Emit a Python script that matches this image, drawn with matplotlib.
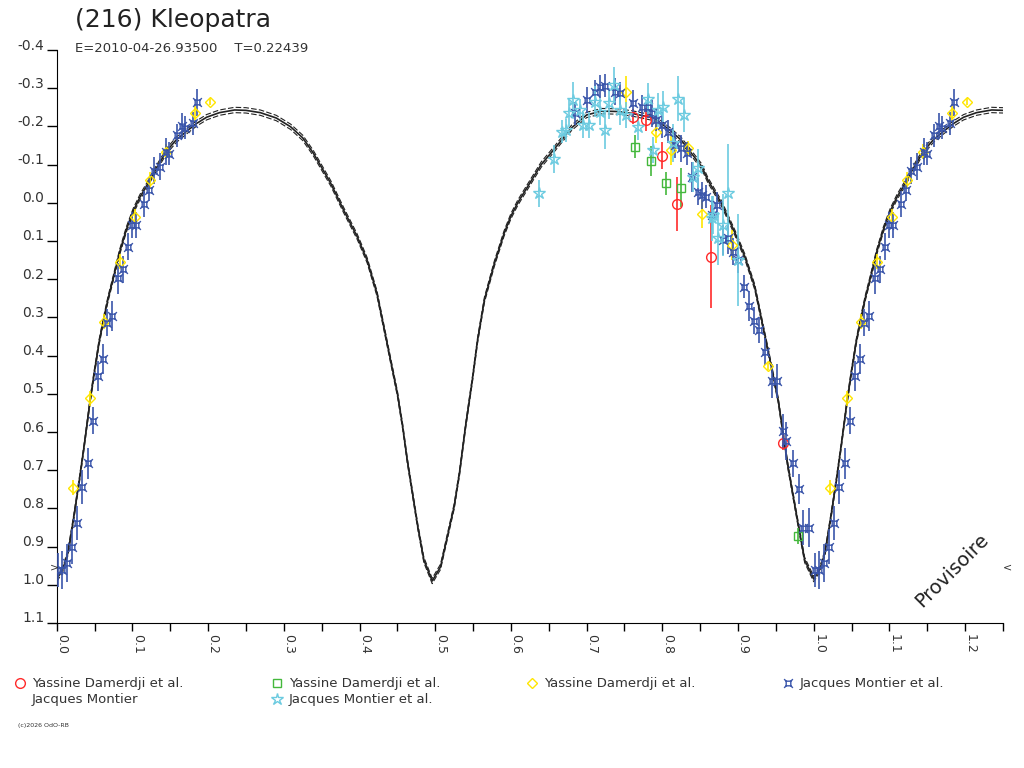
import numpy as np
import matplotlib
matplotlib.use("Agg")
import matplotlib.pyplot as plt
import matplotlib.transforms as mtransforms
from matplotlib.lines import Line2D
from matplotlib.path import Path
from matplotlib.ticker import MultipleLocator

plt.rcParams['axes.unicode_minus'] = False
plt.rcParams['font.family'] = ['DejaVu Sans']

# model lightcurve (phase 0..1)
model_phase = [0.000, 0.008, 0.015, 0.022, 0.030, 0.036, 0.044, 0.050, 0.056, 0.062,
               0.068, 0.075, 0.083, 0.092, 0.101, 0.110, 0.119, 0.130, 0.145, 0.158,
               0.172, 0.185, 0.198, 0.215, 0.235, 0.250, 0.269, 0.290, 0.309, 0.325,
               0.339, 0.362, 0.379, 0.397, 0.410, 0.423, 0.432, 0.441, 0.450, 0.457,
               0.463, 0.470, 0.477, 0.485, 0.496, 0.507, 0.516, 0.525, 0.532, 0.540,
               0.549, 0.556, 0.565, 0.578, 0.591, 0.600, 0.609, 0.626, 0.640, 0.657,
               0.680, 0.700, 0.720, 0.741, 0.760, 0.789, 0.810, 0.825, 0.852, 0.860,
               0.878, 0.896, 0.909, 0.922, 0.940, 0.953, 0.966, 0.980, 0.988, 1.000]
model_mag = [0.985, 0.960, 0.915, 0.830, 0.725, 0.640, 0.520, 0.440, 0.365, 0.305,
             0.250, 0.195, 0.130, 0.070, 0.022, -0.015, -0.045, -0.085, -0.135, -0.165,
             -0.188, -0.208, -0.224, -0.236, -0.243, -0.242, -0.236, -0.222, -0.199, -0.170,
             -0.130, -0.051, 0.019, 0.089, 0.150, 0.237, 0.324, 0.412, 0.499, 0.586,
             0.673, 0.761, 0.848, 0.935, 0.990, 0.953, 0.874, 0.795, 0.708, 0.586,
             0.464, 0.359, 0.254, 0.160, 0.080, 0.035, 0.000, -0.055, -0.100, -0.140,
             -0.196, -0.230, -0.240, -0.239, -0.234, -0.222, -0.190, -0.164, -0.095, -0.060,
             0.001, 0.079, 0.141, 0.220, 0.390, 0.516, 0.691, 0.848, 0.935, 0.985]
model_spread = 0.007

# Yassine Damerdji et al. (red circles)
red_phase = [0.761, 0.779, 0.799, 0.819, 0.864, 0.959]
red_mag = [-0.225, -0.217, -0.123, 0.003, 0.141, 0.628]
red_err = [0.02, 0.03, 0.035, 0.07, 0.135, 0.02]

# Yassine Damerdji et al. (green squares)
green_phase = [0.764, 0.785, 0.805, 0.825, 0.979]
green_mag = [-0.147, -0.109, -0.051, -0.040, 0.872]
green_err = [0.03, 0.04, 0.03, 0.05, 0.02]

# Yassine Damerdji et al. (yellow diamonds)
yellow_phase = [0.022, 0.044, 0.063, 0.083, 0.104, 0.123, 0.144, 0.183, 0.202,
                0.752, 0.792, 0.812, 0.834, 0.853, 0.892, 0.939]
yellow_mag = [0.746, 0.512, 0.311, 0.154, 0.036, -0.060, -0.134, -0.234, -0.265,
              -0.291, -0.186, -0.138, -0.143, 0.029, 0.111, 0.427]
yellow_err = [0.02, 0.02, 0.02, 0.02, 0.02, 0.02, 0.02, 0.02, 0.01,
              0.04, 0.03, 0.04, 0.02, 0.037, 0.04, 0.01]

# Jacques Montier et al. (blue)
blue_phase = [0.002, 0.007, 0.014, 0.020, 0.027, 0.034, 0.041, 0.048, 0.055, 0.061,
              0.066, 0.073, 0.081, 0.087, 0.094, 0.100, 0.105, 0.115, 0.122, 0.128,
              0.136, 0.145, 0.149, 0.159, 0.165, 0.170, 0.180, 0.185,
              0.684, 0.700, 0.711, 0.718, 0.724, 0.737, 0.744, 0.761, 0.773, 0.781,
              0.786, 0.792, 0.799, 0.808, 0.817, 0.825, 0.832, 0.839, 0.847, 0.852,
              0.858, 0.866, 0.872, 0.880, 0.887, 0.894, 0.900, 0.908, 0.914, 0.921,
              0.928, 0.935, 0.945, 0.951, 0.959, 0.964, 0.973, 0.980, 0.986, 0.994]
blue_mag = [0.961, 0.961, 0.942, 0.900, 0.839, 0.744, 0.682, 0.570, 0.453, 0.409,
            0.314, 0.296, 0.198, 0.174, 0.115, 0.058, 0.058, 0.003, -0.034, -0.084,
            -0.095, -0.134, -0.128, -0.177, -0.201, -0.196, -0.208, -0.263,
            -0.234, -0.269, -0.291, -0.304, -0.306, -0.291, -0.287, -0.260, -0.252, -0.252,
            -0.234, -0.217, -0.204, -0.186, -0.151, -0.143, -0.130, -0.068, -0.029, -0.020,
            -0.016, 0.032, 0.006, 0.097, 0.093, 0.128, 0.150, 0.220, 0.270, 0.309,
            0.333, 0.390, 0.466, 0.466, 0.597, 0.624, 0.682, 0.749, 0.850, 0.850]
blue_err = [0.045, 0.05, 0.05, 0.045, 0.045, 0.045, 0.04, 0.035, 0.04, 0.04,
            0.035, 0.04, 0.04, 0.035, 0.035, 0.035, 0.035, 0.035, 0.03, 0.035,
            0.035, 0.035, 0.03, 0.03, 0.035, 0.03, 0.03, 0.035,
            0.03, 0.035, 0.03, 0.03, 0.03, 0.035, 0.03, 0.035, 0.03, 0.03,
            0.035, 0.03, 0.035, 0.03, 0.035, 0.035, 0.03, 0.04, 0.035, 0.035,
            0.03, 0.04, 0.035, 0.04, 0.04, 0.035, 0.035, 0.03, 0.04, 0.035,
            0.035, 0.035, 0.045, 0.045, 0.045, 0.05, 0.035, 0.04, 0.045, 0.05]

# Jacques Montier et al. (cyan stars)
cyan_phase = [0.637, 0.657, 0.667, 0.673, 0.677, 0.682, 0.691, 0.695, 0.703, 0.711,
              0.718, 0.724, 0.730, 0.736, 0.744, 0.752, 0.768, 0.781, 0.788, 0.794,
              0.801, 0.814, 0.821, 0.828, 0.841, 0.847, 0.866, 0.867, 0.874, 0.880,
              0.887, 0.900]
cyan_mag = [-0.025, -0.115, -0.186, -0.190, -0.234, -0.269, -0.243, -0.204, -0.204, -0.265,
            -0.239, -0.190, -0.260, -0.308, -0.243, -0.230, -0.199, -0.273, -0.138, -0.243,
            -0.252, -0.156, -0.273, -0.230, -0.068, -0.090, 0.041, 0.032, 0.093, 0.058,
            -0.025, 0.150]
cyan_err = [0.035, 0.037, 0.03, 0.03, 0.035, 0.048, 0.03, 0.035, 0.035, 0.04,
            0.035, 0.05, 0.04, 0.048, 0.04, 0.035, 0.035, 0.04, 0.035, 0.045,
            0.04, 0.05, 0.06, 0.045, 0.04, 0.05, 0.06, 0.05, 0.07, 0.08,
            0.13, 0.12]

XMAX = 1.25

# square with corner ticks for the blue series
blue_marker = Path(
    [(-0.45, -0.45), (0.45, -0.45), (0.45, 0.45), (-0.45, 0.45), (-0.45, -0.45),
     (-0.45, -0.45), (-0.85, -0.85), (0.45, -0.45), (0.85, -0.85),
     (0.45, 0.45), (0.85, 0.85), (-0.45, 0.45), (-0.85, 0.85)],
    [Path.MOVETO, Path.LINETO, Path.LINETO, Path.LINETO, Path.CLOSEPOLY,
     Path.MOVETO, Path.LINETO, Path.MOVETO, Path.LINETO,
     Path.MOVETO, Path.LINETO, Path.MOVETO, Path.LINETO])

series = [
    (red_phase, red_mag, red_err, '#ff2a2a', 'o', 7),
    (green_phase, green_mag, green_err, '#44b83c', 's', 5.5),
    (yellow_phase, yellow_mag, yellow_err, '#ffe600', 'D', 5.5),
    (blue_phase, blue_mag, blue_err, '#3a55aa', blue_marker, 6.3),
    (cyan_phase, cyan_mag, cyan_err, '#6ccbe0', '*', 9),
]


def unfold(phase, vals):
    # plot each phase once, and again one cycle later while it is still on the axis
    p = np.array(phase)
    extra = p + 1.0 <= XMAX
    return np.concatenate([p, p[extra] + 1.0]), [np.concatenate([np.array(v), np.array(v)[extra]]) for v in vals]


fig = plt.figure(figsize=(10.24, 7.68), dpi=100)
ax = fig.add_axes([56.7 / 1024, 1 - 623 / 768, (1003 - 56.7) / 1024, (623 - 50) / 768])

# model curve with its envelope
mp, (mm,) = unfold(model_phase[:-1], [model_mag[:-1]])
order = np.argsort(mp)
mp, mm = mp[order], mm[order]
ax.plot(mp, mm, color='#222222', lw=1.2, zorder=2)
ax.plot(mp, mm - model_spread, color='#222222', lw=0.8, ls=(0, (5, 2)), zorder=2)
ax.plot(mp, mm + model_spread, color='#222222', lw=0.8, ls=(0, (5, 2)), zorder=2)

for phase, mag, err, col, mk, ms in series:
    px, (py, pe) = unfold(phase, [mag, err])
    ax.errorbar(px, py, yerr=pe, fmt='none', ecolor=col, elinewidth=1.2, capsize=0, zorder=3)
    ax.plot(px, py, ls='none', marker=mk, ms=ms, mec=col, mfc='none', mew=1.0, zorder=4)

ax.set_xlim(0, XMAX)
ax.set_ylim(1.1, -0.4)
ax.spines['top'].set_visible(False)
ax.spines['right'].set_visible(False)
ax.xaxis.set_major_locator(MultipleLocator(0.1))
ax.xaxis.set_minor_locator(MultipleLocator(0.05))
ax.yaxis.set_major_locator(MultipleLocator(0.1))
ax.xaxis.set_major_formatter(plt.FormatStrFormatter('%.1f'))
ax.yaxis.set_major_formatter(plt.FormatStrFormatter('%.1f'))
ax.tick_params(axis='x', which='both', direction='out', length=6, width=1, pad=2,
               labelsize=9, labelcolor='#333333', labelrotation=-90)
ax.tick_params(axis='y', direction='out', length=7, width=1, pad=2,
               labelsize=10, labelcolor='#333333')
for lab in ax.get_xticklabels():
    lab.set_transform(lab.get_transform() + mtransforms.ScaledTranslation(0.05, 0, fig.dpi_scale_trans))
for lab in ax.get_yticklabels():
    lab.set_transform(lab.get_transform() + mtransforms.ScaledTranslation(0, 0.06, fig.dpi_scale_trans))

# titles and annotations
fig.text(75 / 1024, 1 - 20 / 768, '(216) Kleopatra', fontsize=18, color='#222222', va='center')
fig.text(75 / 1024, 1 - 48 / 768, 'E=2010-04-26.93500    T=0.22439', fontsize=9.5,
         color='#333333', va='center')
fig.text(918 / 1024, 1 - 604 / 768, 'Provisoire', rotation=45, fontsize=14, color='#222222',
         ha='left', va='center', rotation_mode='anchor')
fig.text(50 / 1024, 1 - 567 / 768, '>', fontsize=8, color='#333333', va='center')
fig.text(1003 / 1024, 1 - 567 / 768, '<', fontsize=8, color='#333333', va='center')

# legend below the chart
leg_rows = [
    (20, 683, '#ff2a2a', 'o', 7, 'Yassine Damerdji et al.'),
    (277, 683, '#44b83c', 's', 5.5, 'Yassine Damerdji et al.'),
    (532, 683, '#ffe600', 'D', 5.5, 'Yassine Damerdji et al.'),
    (788, 683, '#3a55aa', blue_marker, 6.3, 'Jacques Montier et al.'),
    (277, 699, '#6ccbe0', '*', 9, 'Jacques Montier et al.'),
]
for lx, ly, col, mk, ms, txt in leg_rows:
    fig.add_artist(Line2D([lx / 1024], [1 - ly / 768], transform=fig.transFigure, ls='none',
                          marker=mk, ms=ms, mec=col, mfc='none', mew=1.0))
    fig.text((lx + 12) / 1024, 1 - ly / 768, txt, fontsize=9.5, color='#333333', va='center')
fig.text(32 / 1024, 1 - 699 / 768, 'Jacques Montier', fontsize=9.5, color='#333333', va='center')
fig.text(18 / 1024, 1 - 725 / 768, '(c)2026 OdO-RB', fontsize=4.5, color='#333333', va='center')

fig.savefig('out.png', dpi=100)
